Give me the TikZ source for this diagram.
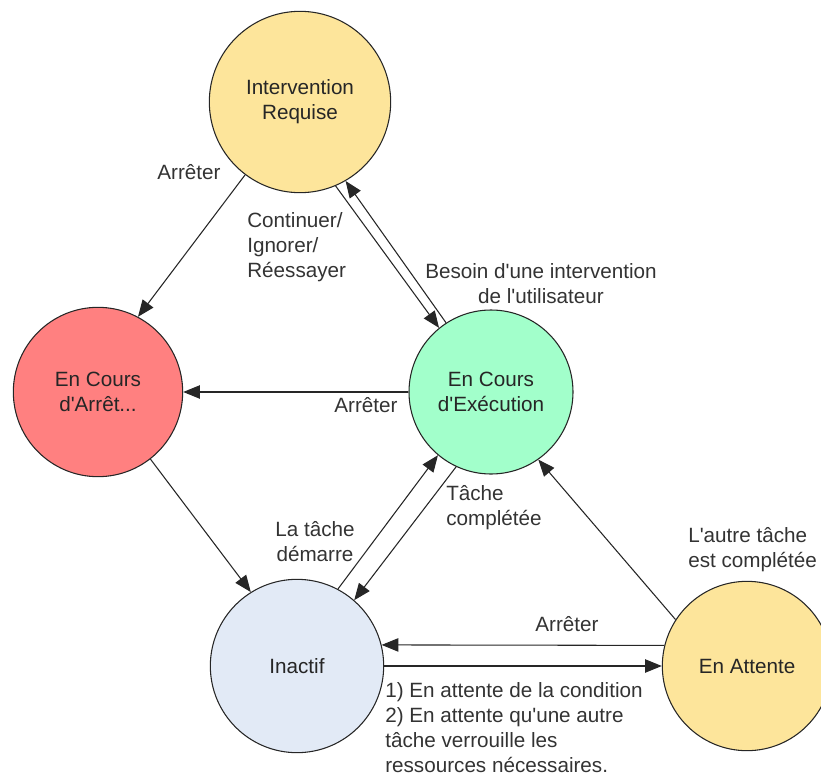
\documentclass[tikz,border=0pt]{standalone}
\usepackage{fontspec}
\setmainfont{Liberation Sans}
\usetikzlibrary{arrows.meta}
\definecolor{jaune}{RGB}{253,229,155}
\definecolor{rouge}{RGB}{255,128,128}
\definecolor{vert}{RGB}{162,255,203}
\definecolor{bleu}{RGB}{226,234,246}
\tikzset{
  etat/.style={circle,draw=black!85,line width=0.8pt,align=center,inner sep=0pt,text=black!85},
  fl/.style={-{Triangle[length=12.5pt,width=10pt]},line width=0.8pt,draw=black!85},
  lbl/.style={text=black!80,inner sep=0pt,align=left},
}
\begin{document}
\begin{tikzpicture}[x=0.75pt,y=-0.75pt,font=\fontsize{15.5}{18.75}\selectfont]
                \useasboundingbox (0,0) rectangle (821,778);
                \clip (0,0) rectangle (821,778);
                \node[etat,fill=jaune,minimum size=136pt] (IR) at (300,102) {Intervention\\Requise};
                \node[etat,fill=rouge,minimum size=127pt] (AR) at (98,392) {En Cours\\d\textquotesingle Arrêt...};
                \node[etat,fill=vert,minimum size=123pt] (EX) at (491,392) {En Cours\\d\textquotesingle Exécution};
                \node[etat,fill=bleu,minimum size=130pt] (IN) at (297,666) {Inactif};
                \node[etat,fill=jaune,minimum size=127pt] (AT) at (747,666) {En Attente};
                \foreach \a/\b in {IR.-127/AR.62,IR.-67/EX.129,EX.123/IR.-60,EX.180/AR.0,AR.-52/IN.122,
                    IN.62/EX.-130,EX.-115/IN.49,AT.147/EX.-55,AT.166/IN.14,IN.0/AT.180}
                    \draw[fl] (\a)--(\b);
                \node[lbl] (arr1) at (189,172) {Arrêter};
                \node[lbl,anchor=west] (cont) at (247,247) {Continuer/\\Ignorer/\\Réessayer};
                \node[lbl,align=center] (besoin) at (541,284) {Besoin d\textquotesingle une intervention\\de l\textquotesingle utilisateur};
                \node[lbl] (arr2) at (366,405) {Arrêter};
                \node[lbl,align=center] (dem) at (315,542) {La tâche\\démarre};
                \node[lbl,anchor=west] (comp) at (446,508) {Tâche\\complétée};
                \node[lbl,anchor=west] (autre) at (688,550) {L\textquotesingle autre tâche\\est complétée};
                \node[lbl] (arr3) at (567,624) {Arrêter};
                \node[lbl,anchor=west] (cond) at (385,728) {1) En attente de la condition\\2) En attente qu\textquotesingle une autre\\tâche verrouille les\\ressources nécessaires.};
            \end{tikzpicture}
\end{document}
